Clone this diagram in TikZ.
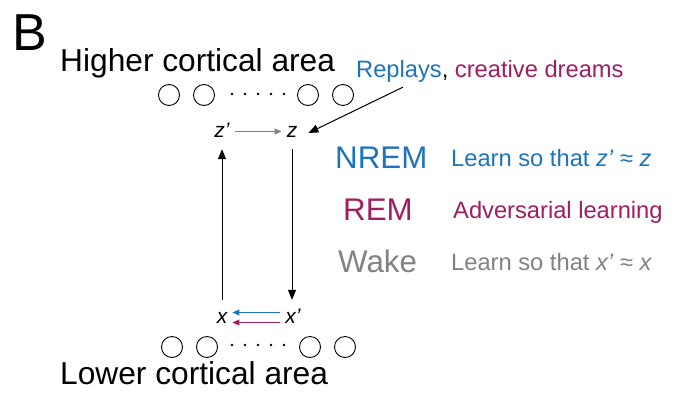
\documentclass[tikz,border=0pt]{standalone}
\usepackage{fontspec}
\setmainfont{Liberation Sans}
\usetikzlibrary{arrows.meta}
\definecolor{nremblue}{RGB}{30,115,190}
\definecolor{remred}{RGB}{160,30,95}
\definecolor{wakegray}{RGB}{128,130,133}
\begin{document}
\begin{tikzpicture}[x=1pt,y=-1pt,
	unit/.style={circle, draw, line width=0.9pt, minimum size=21pt, inner sep=0pt},
	var/.style={font=\fontsize{21}{21}\selectfont\itshape, inner xsep=5pt, inner ysep=12pt, text height=11pt, text depth=0pt},
	txt/.style={anchor=base west, inner sep=0pt},
	big/.style={txt, font=\fontsize{31.3}{31.3}\selectfont},
	small/.style={txt, font=\fontsize{23.7}{23.7}\selectfont},
	area/.style={txt, font=\fontsize{31.7}{31.7}\selectfont},
	blk/.style={-{Triangle[length=10pt,width=8pt]}, line width=1pt},
	thin/.style={-{Triangle[length=7pt,width=6pt]}, line width=1pt}]
	\useasboundingbox (0,0) rectangle (684,399);
	\node (B)   at (12,50)  [txt, font=\fontsize{52}{52}\selectfont]	{B};
	\node (hi)  at (60,71)  [area]	{Higher cortical area};
	\node (lo)  at (60,384) [area]	{Lower cortical area};
	\node (H1) at (169,95)  [unit] {};
	\node (H2) at (204,95)  [unit] {};
	\node (H3) at (308,95)  [unit] {};
	\node (H4) at (343,95)  [unit] {};
	\node (L1) at (172,347) [unit] {};
	\node (L2) at (207,347) [unit] {};
	\node (L3) at (310,347) [unit] {};
	\node (L4) at (345,347) [unit] {};
	\foreach \x in {232,245,258,271,284} {
		\fill (\x,94) circle (1.3pt);
		\fill (\x,345) circle (1.3pt);
	}
	\node (zp) at (222,131.5) [var] {z’};
	\node (z)  at (292,131.5) [var] {z};
	\node (x)  at (222,317.5) [var] {x};
	\node (xp) at (293,317.5) [var] {x’};
	\node (replay) at (356,77) [small] {{\color{nremblue}Replays}, {\color{remred}creative dreams}};
	\node (nrem)  at (335,168) [big, text=nremblue]	{NREM};
	\node (rem)   at (343,220) [big, text=remred]	{REM};
	\node (wake)  at (338,272) [big, text=wakegray]	{Wake};
	\node (nremd) at (451,166) [small, text=nremblue]	{Learn so that \textit{z’} ≈ \textit{z}};
	\node (remd)  at (453,218) [small, text=remred]	{Adversarial learning};
	\node (waked) at (451,270) [small, text=wakegray]	{Learn so that \textit{x’} ≈ \textit{x}};
	\draw[thin, draw=wakegray, line width=0.8pt] (zp) -- (z);
	\draw[blk] (x) -- (zp);
	\draw[blk] (z) -- (z |- xp.north);
	\draw[thin, draw=nremblue] ([yshift=5pt]xp.west) -- ([yshift=5pt]x.east);
	\draw[thin, draw=remred] ([yshift=-5pt]xp.west) -- ([yshift=-5pt]x.east);
	\draw[blk] ([xshift=47pt,yshift=-5pt]replay.south west) -- ([xshift=6pt,yshift=-1.5pt]z.east);
\end{tikzpicture}
\end{document}
